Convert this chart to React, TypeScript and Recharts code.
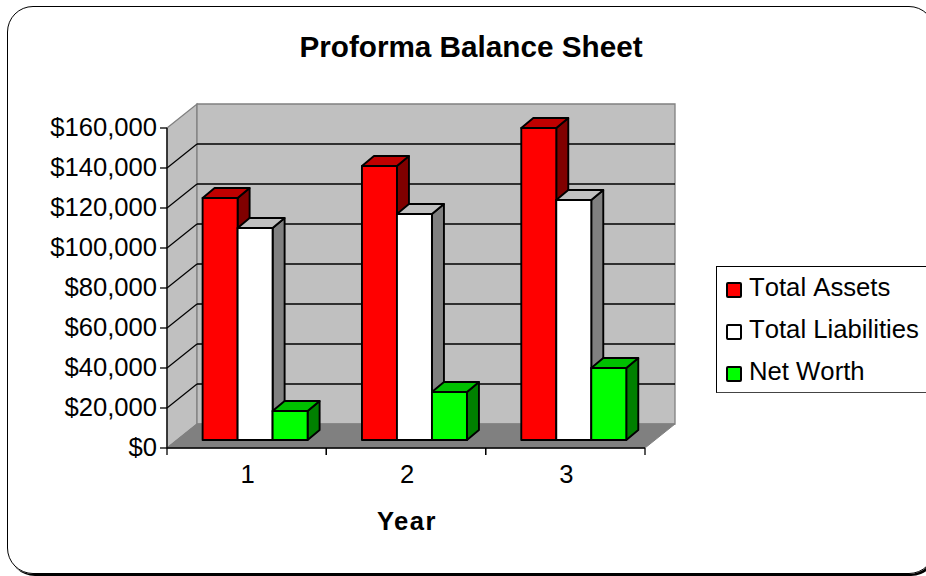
import React from 'react';
import { BarChart, Bar, XAxis, YAxis, CartesianGrid } from 'recharts';

const years = ['1', '2', '3'];
const totalAssets = [121000, 137000, 156000];
const totalLiabilities = [106000, 113000, 120000];
const netWorth = [14500, 24000, 36000];
const yTicks = [0, 20000, 40000, 60000, 80000, 100000, 120000, 140000, 160000];

const data = years.map((year, i) => ({
  year,
  totalAssets: totalAssets[i],
  totalLiabilities: totalLiabilities[i],
  netWorth: netWorth[i],
}));

const FONT = '"Liberation Sans", Arial, sans-serif';
const PLOT = { left: 167, top: 128, right: 645, bottom: 448 };
const WALL_DX = 30;
const WALL_DY = -24;
const BAND = (PLOT.right - PLOT.left) / years.length;

const RED = { front: '#ff0000', top: '#c00000', side: '#800000' };
const WHITE = { front: '#ffffff', top: '#c0c0c0', side: '#808080' };
const GREEN = { front: '#00ff00', top: '#00c000', side: '#008000' };

const LEGEND_ITEMS = [
  { label: 'Total Assets', color: RED.front },
  { label: 'Total Liabilities', color: WHITE.front },
  { label: 'Net Worth', color: GREEN.front },
];

const pts = (list: number[][]) => list.map((p) => p.join(',')).join(' ');

// bars stand a little way into the box, so the front face is shifted back from the axis plane
function Bar3D({ x, y, width, height, colors }: any) {
  const dx = 12;
  const dy = -10;
  const fx = x + 9;
  const fy = y - 8;
  const common = { stroke: '#000', strokeWidth: 1.9, strokeLinejoin: 'round' as const };
  return (
    <g>
      <polygon
        points={pts([[fx + width, fy], [fx + width + dx, fy + dy], [fx + width + dx, fy + height + dy], [fx + width, fy + height]])}
        fill={colors.side}
        {...common}
      />
      <polygon
        points={pts([[fx, fy], [fx + dx, fy + dy], [fx + width + dx, fy + dy], [fx + width, fy]])}
        fill={colors.top}
        {...common}
      />
      <rect x={fx} y={fy} width={width} height={height} fill={colors.front} {...common} />
    </g>
  );
}

function Walls() {
  const { left, top, right, bottom } = PLOT;
  const b = { dx: WALL_DX, dy: WALL_DY };
  return (
    <svg width={926} height={576} style={{ position: 'absolute', left: 0, top: 0 }}>
      <polygon
        points={pts([[left, top], [left + b.dx, top + b.dy], [left + b.dx, bottom + b.dy], [left, bottom]])}
        fill="#c0c0c0"
        stroke="#808080"
        strokeWidth={1.3}
      />
      <polygon
        points={pts([[left + b.dx, top + b.dy], [right + b.dx, top + b.dy], [right + b.dx, bottom + b.dy], [left + b.dx, bottom + b.dy]])}
        fill="#c0c0c0"
        stroke="#808080"
        strokeWidth={1.3}
      />
      <polygon
        points={pts([[left, bottom], [left + b.dx, bottom + b.dy], [right + b.dx, bottom + b.dy], [right, bottom]])}
        fill="#808080"
        stroke="#808080"
      />
    </svg>
  );
}

function GridLine(props: any) {
  const { x1, x2, y1, index } = props;
  const backY = y1 + WALL_DY;
  const isEdge = Math.abs(y1 - PLOT.top) < 1 || Math.abs(y1 - PLOT.bottom) < 1;
  if (isEdge) return <g key={index} />;
  return (
    <g key={index} stroke="#000" strokeWidth={1.3}>
      <line x1={x1} y1={y1} x2={x1 + WALL_DX} y2={backY} />
      <line x1={x1 + WALL_DX} y1={backY} x2={x2 + WALL_DX} y2={backY} />
    </g>
  );
}

function YearTick({ x, y, payload }: any) {
  return (
    <g>
      <line x1={x - BAND / 2} y1={y - 8} x2={x - BAND / 2} y2={y - 1} stroke="#000" strokeWidth={1.3} />
      <line x1={x + BAND / 2} y1={y - 8} x2={x + BAND / 2} y2={y - 1} stroke="#000" strokeWidth={1.3} />
      <text x={x + 1} y={y + 27} textAnchor="middle" fontSize={25.6} fontFamily={FONT} fill="#000">
        {payload.value}
      </text>
    </g>
  );
}

function YValueTick({ x, y, payload }: any) {
  return (
    <text x={x} y={y + 8} textAnchor="end" fontSize={25.6} fontFamily={FONT} fill="#000">
      {'$' + payload.value.toLocaleString('en-US')}
    </text>
  );
}

function LegendBox() {
  return (
    <div
      style={{
        position: 'absolute',
        left: 716,
        top: 266,
        width: 212,
        height: 127,
        boxSizing: 'border-box',
        border: '1px solid #000',
        borderBottomColor: '#444',
        background: '#fff',
        fontFamily: FONT,
        fontSize: 25.7,
        fontKerning: 'none',
        color: '#000',
      }}
    >
      {LEGEND_ITEMS.map((item, i) => (
        <div key={item.label} style={{ position: 'absolute', left: 0, top: 4 + i * 42, height: 34, whiteSpace: 'nowrap' }}>
          <span
            style={{
              position: 'absolute',
              left: 9,
              top: 11,
              width: 12,
              height: 12,
              background: item.color,
              border: '2px solid #000',
              borderRadius: 2,
              boxSizing: 'content-box',
            }}
          />
          <span style={{ position: 'absolute', left: 32, top: 1, lineHeight: '30px' }}>{item.label}</span>
        </div>
      ))}
    </div>
  );
}

export default function App() {
  return (
    <div style={{ position: 'absolute', left: 0, top: 0, width: 926, height: 576, overflow: 'hidden', background: '#fff' }}>
      <div
        style={{
          position: 'absolute',
          left: 7,
          top: 6,
          width: 926,
          height: 566,
          border: '1.5px solid #000',
          borderRadius: 26,
          boxShadow: '2px 2px 0 #000',
        }}
      />
      <Walls />
      <BarChart
        width={926}
        height={576}
        data={data}
        margin={{ top: PLOT.top, right: 926 - PLOT.right, bottom: 0, left: 0 }}
        barCategoryGap="16.7%"
        barGap={0}
        style={{ position: 'absolute', left: 0, top: 0 }}
      >
        <CartesianGrid vertical={false} horizontal={(p: any) => <GridLine {...p} />} />
        <XAxis
          dataKey="year"
          height={576 - PLOT.bottom}
          axisLine={{ stroke: '#000', strokeWidth: 1.3 }}
          tickLine={false}
          tick={<YearTick />}
          interval={0}
          label={{
            value: 'Year',
            position: 'insideBottom',
            offset: 46,
            dx: 1,
            fontSize: 25.6,
            fontWeight: 700,
            fontFamily: FONT,
            fill: '#000',
            letterSpacing: 1.5,
          }}
        />
        <YAxis
          width={PLOT.left}
          domain={[0, 160000]}
          ticks={yTicks}
          interval={0}
          tickSize={7}
          tickMargin={3}
          axisLine={{ stroke: '#000', strokeWidth: 1.3 }}
          tickLine={{ stroke: '#000', strokeWidth: 1.3 }}
          tick={<YValueTick />}
        />
        <Bar dataKey="totalAssets" isAnimationActive={false} shape={(p: any) => <Bar3D {...p} colors={RED} />} />
        <Bar dataKey="totalLiabilities" isAnimationActive={false} shape={(p: any) => <Bar3D {...p} colors={WHITE} />} />
        <Bar dataKey="netWorth" isAnimationActive={false} shape={(p: any) => <Bar3D {...p} colors={GREEN} />} />
        <text x={471} y={57} textAnchor="middle" fontSize={29.7} fontWeight={700} fontFamily={FONT} fill="#000">
          Proforma Balance Sheet
        </text>
      </BarChart>
      <LegendBox />
    </div>
  );
}
